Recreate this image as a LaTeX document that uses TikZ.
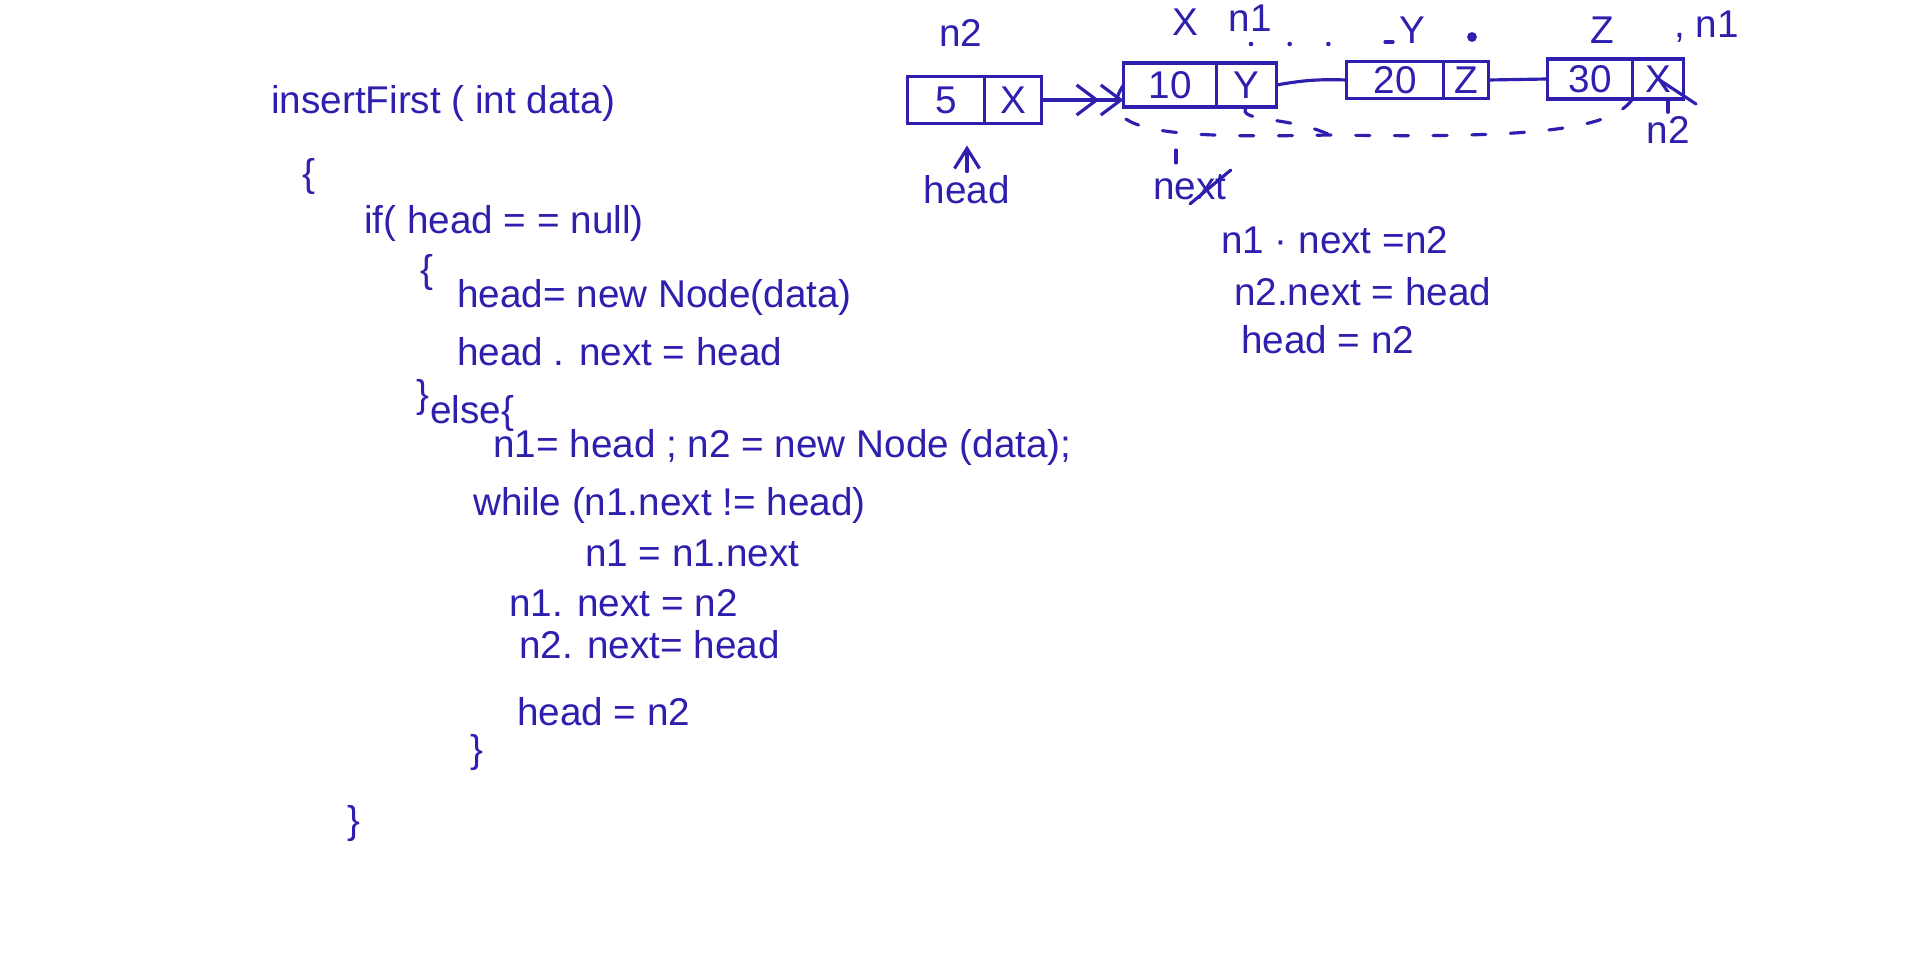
\documentclass[tikz,border=0pt]{standalone}
\usepackage{fontspec}
\setmainfont{Liberation Sans}
\usepackage{xcolor}
\usetikzlibrary{arrows.meta, positioning, calc}
\definecolor{ink}{RGB}{46,31,174}

\begin{document}
\begin{tikzpicture}[
        x=0.01cm, y=0.01cm,
        hand/.style={font=\fontsize{11}{13}\selectfont, text=ink, inner sep=1pt},
        code/.style={hand, anchor=west},
        cell/.style={hand, draw=ink, line width=0.9pt, outer sep=0pt},
        link/.style={draw=ink, line width=0.9pt, line cap=round},
        ptr/.style={link, -{Straight Barb[length=2mm, width=3mm] Straight Barb[length=2mm, width=3mm]}},
        arr/.style={link, -{Straight Barb[length=2mm, width=2.5mm]}},
        back/.style={link, dash pattern=on 4pt off 7pt},
        dotrow/.style={link, line width=1.3pt, dash pattern=on 0pt off 11pt}
    ]
        \useasboundingbox (0,0) rectangle (1920,-964);

        % the code
        \node[code] (fn) at (267,-103) {insertFirst ( int data)};
        \node[code] (ob1) at (298,-177) {\{};
        \node[code] (cif) at (360,-223) {if( head = = null)};
        \node[code] (ob2) at (416,-273) {\{};
        \node[code] (c1) at (453,-297) {head= new Node(data)};
        \node[code] (c2) at (453,-352) {head . next = head};
        \node[code] (cb1) at (412,-398) {\}};
        \node[code] (celse) at (426,-414) {else\{};
        \node[code] (c3) at (489,-447) {n1= head ; n2 = new Node (data);};
        \node[code] (cwh) at (469,-505) {while (n1.next != head)};
        \node[code] (c4) at (581,-553) {n1 = n1.next};
        \node[code] (c5) at (505,-603) {n1. next = n2};
        \node[code] (c6) at (515,-645) {n2. next= head};
        \node[code] (c7) at (513,-712) {head = n2};
        \node[code] (cb2) at (466,-753) {\}};
        \node[code] (cb3) at (343,-823) {\}};

        % the list
        \node[cell, minimum width=0.77cm, minimum height=0.47cm] (d5) at (946,-100) {5};
        \node[cell, right=0pt of d5, minimum width=0.57cm, minimum height=0.47cm] (p5) {X};
        \node[cell, minimum width=0.93cm, minimum height=0.44cm] (d10) at (1170,-85) {10};
        \node[cell, right=0pt of d10, minimum width=0.6cm, minimum height=0.44cm] (p10) {Y};
        \node[cell, minimum width=0.97cm, minimum height=0.37cm] (d20) at (1395,-80) {20};
        \node[cell, right=0pt of d20, minimum width=0.45cm, minimum height=0.37cm] (p20) {Z};
        \node[cell, minimum width=0.85cm, minimum height=0.4cm] (d30) at (1590,-79) {30};
        \node[cell, right=0pt of d30, minimum width=0.51cm, minimum height=0.4cm] (p30) {X};

        \draw[ptr] (p5.east) -- (p5.east -| d10.west);
        \draw[link] (p10.east) to[bend left=6] (d20.west);
        \draw[link] (p20.east) -- (d30.west);
        \coordinate (xtail) at (1696,-104);
        \draw[link] (p30.center) -- (xtail);

        % labels round the list
        \node[hand] (lblN2) at (961,-33) {n2};
        \node[hand] (lblX) at (1185,-22) {X};
        \node[hand] (lblN1) at (1250,-18) {n1};
        \node[hand] (lblY) at (1412,-30) {Y};
        \node[hand] (lblZ) at (1602,-30) {Z};
        \node[hand, anchor=west] (lblN1b) at (1670,-27) {, n1};
        \node[hand] (lblHead) at (967,-190) {head};
        \node[hand] (lblN2b) at (1668,-130) {n2};
        \node[hand] (lblNext) at (1190,-187) {next};

        \draw[arr, shorten >=2.2mm] (lblHead.north) -- (lblHead.north |- d5.south);
        \draw[link] (lblN2b.north) -- (lblN2b.north |- p30.south);
        \draw[link] (lblNext.south) -- (lblNext.north east);
        \coordinate (tk1) at (1176,-150);
        \coordinate (tk2) at (1176,-163);
        \draw[link] (tk1) -- (tk2);

        \coordinate (dA) at (1251,-44);
        \coordinate (dB) at (1340,-44);
        \coordinate (dC) at (1385,-42);
        \coordinate (dD) at (1472,-37);
        \draw[dotrow] (dA) -- (dB);
        \draw[link] (dC) -- ++(8,0);
        \fill[ink] (dD) circle (1.4pt);

        % the link back to the first node
        \coordinate (bk) at (1330,-135);
        \draw[back] (p30.south west) .. controls (1610,-132) and (1520,-138) .. (bk)
            .. controls (1180,-138) and (1090,-135) .. (d10.west);
        \draw[back] (p10.south) .. controls (1235,-122) and (1290,-116) .. (bk);

        % notes on the right
        \node[code] (r1) at (1217,-240) {n1 · next =n2};
        \node[code] (r2) at (1230,-292) {n2.next = head};
        \node[code] (r3) at (1237,-340) {head = n2};
    \end{tikzpicture}
\end{document}
